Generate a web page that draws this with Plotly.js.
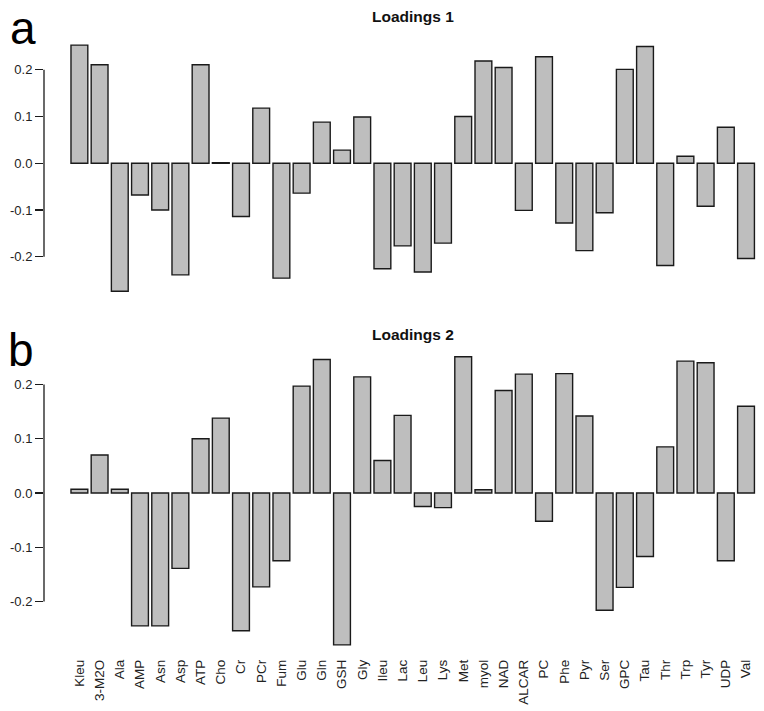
<!DOCTYPE html>
<html>
<head>
<meta charset="utf-8">
<script src="https://cdn.plot.ly/plotly-3.0.1.min.js"></script>
<style>html,body{margin:0;padding:0;background:#fff;}#chart{width:764px;height:711px;}</style>
</head>
<body>
<div id="chart"></div>
<script>
const categories = ["Kleu","3-M2O","Ala","AMP","Asn","Asp","ATP","Cho","Cr","PCr","Fum","Glu","Gln","GSH","Gly","Ileu","Lac","Leu","Lys","Met","myol","NAD","ALCAR","PC","Phe","Pyr","Ser","GPC","Tau","Thr","Trp","Tyr","UDP","Val"];
const loadings1 = [0.253,0.211,-0.274,-0.068,-0.100,-0.239,0.211,0.001,-0.114,0.118,-0.246,-0.064,0.088,0.028,0.099,-0.226,-0.177,-0.233,-0.171,0.100,0.219,0.205,-0.101,0.228,-0.128,-0.187,-0.106,0.201,0.250,-0.219,0.015,-0.092,0.077,-0.204];
const loadings2 = [0.007,0.070,0.007,-0.245,-0.245,-0.139,0.100,0.138,-0.254,-0.173,-0.125,0.197,0.246,-0.280,0.214,0.060,0.143,-0.025,-0.027,0.251,0.006,0.189,0.219,-0.052,0.220,0.142,-0.216,-0.174,-0.117,0.085,0.243,0.240,-0.125,0.160];
const yTickVals = [-0.2,-0.1,0.0,0.1,0.2];
const yTickText = ["-0.2","-0.1","0.0","0.1","0.2"];
const panelTitles = ["Loadings 1","Loadings 2"];
const panelLetters = ["a","b"];

const font = "Liberation Sans, Arial, Helvetica, sans-serif";
const barStyle = {color:"#bebebe", line:{color:"#1a1a1a", width:1.4}};

const traces = [
  {type:"bar", x:categories, y:loadings1, xaxis:"x", yaxis:"y", marker:barStyle, hoverinfo:"x+y"},
  {type:"bar", x:categories, y:loadings2, xaxis:"x2", yaxis:"y2", marker:barStyle, hoverinfo:"x+y"}
];

const xr = [-1.752, 33.89];
const yAxisCommon = {
  tickmode:"array", tickvals:yTickVals, ticktext:yTickText,
  ticks:"outside", ticklen:8, tickwidth:1.3, tickcolor:"#1a1a1a",
  showgrid:false, zeroline:false, showline:false,
  tickfont:{family:font, size:13, color:"#222"}, fixedrange:true
};

const layout = {
  width:764, height:711,
  margin:{l:44, r:0, t:0, b:0},
  paper_bgcolor:"#fff", plot_bgcolor:"#fff",
  showlegend:false, bargap:0.167,
  xaxis:{domain:[0,1], anchor:"y", type:"category", range:xr, showticklabels:false, ticks:"", showgrid:false, zeroline:false, showline:false, fixedrange:true},
  xaxis2:{domain:[0,1], anchor:"y2", type:"category", range:xr, tickangle:-90, ticks:"", ticklabelstandoff:6, showgrid:false, zeroline:false, showline:false,
          tickfont:{family:font, size:13.5, color:"#222"}, fixedrange:true},
  yaxis:Object.assign({domain:[0.578,0.958], range:[-0.2929,0.2856], anchor:"x"}, yAxisCommon),
  yaxis2:Object.assign({domain:[0.0858,0.5148], range:[-0.2894,0.2728], anchor:"x2"}, yAxisCommon),
  shapes:[
    {type:"line", xref:"paper", yref:"y", x0:0, x1:0, y0:-0.2, y1:0.2, line:{color:"#1a1a1a", width:1.3}},
    {type:"line", xref:"paper", yref:"y2", x0:0, x1:0, y0:-0.2, y1:0.2, line:{color:"#1a1a1a", width:1.3}}
  ],
  annotations:[
    {text:"<b>"+panelTitles[0]+"</b>", xref:"paper", yref:"paper", x:0.5125, y:(711-16)/711, xanchor:"center", yanchor:"middle", showarrow:false, font:{family:font, size:15.5, color:"#111"}},
    {text:"<b>"+panelTitles[1]+"</b>", xref:"paper", yref:"paper", x:0.5125, y:(711-334)/711, xanchor:"center", yanchor:"middle", showarrow:false, font:{family:font, size:15.5, color:"#111"}},
    {text:panelLetters[0], xref:"paper", yref:"paper", x:-44/720, y:(711-28)/711, xanchor:"left", yanchor:"middle", showarrow:false, xshift:8, font:{family:font, size:46, color:"#000"}},
    {text:panelLetters[1], xref:"paper", yref:"paper", x:-44/720, y:(711-350)/711, xanchor:"left", yanchor:"middle", showarrow:false, xshift:6, font:{family:font, size:46, color:"#000"}}
  ]
};

Plotly.newPlot("chart", traces, layout, {displayModeBar:false, staticPlot:true});
</script>
</body>
</html>
